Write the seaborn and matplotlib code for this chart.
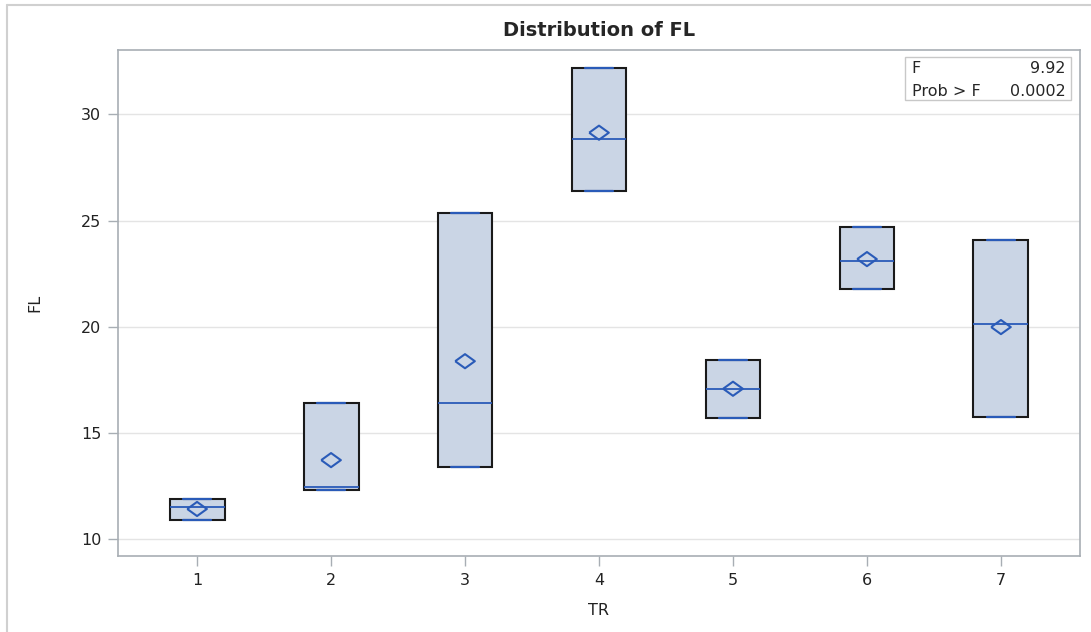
import numpy as np
import pandas as pd
import matplotlib.pyplot as plt
import seaborn as sns
from matplotlib.lines import Line2D
from matplotlib.patches import Rectangle

tr_levels = [1, 2, 3, 4, 5, 6, 7]
obs_low = [10.89, 12.30, 13.39, 26.38, 15.72, 21.78, 15.77]
obs_mid = [11.50, 12.44, 16.41, 28.83, 17.09, 23.10, 20.12]
obs_high = [11.88, 16.43, 25.34, 32.20, 18.44, 24.68, 24.07]
f_value = "9.92"
p_value = "0.0002"

df = pd.DataFrame({
    'TR': np.repeat(tr_levels, 3),
    'FL': np.column_stack([obs_low, obs_mid, obs_high]).ravel(),
})

sns.set_theme(style="white")
plt.rcParams['font.family'] = ['DejaVu Sans']

fig = plt.figure(figsize=(10.91, 6.32), dpi=100)
ax = fig.add_axes([118 / 1091, 1 - 556 / 632, 962 / 1091, 506 / 632])

# box = min..max, line = median (SAS style with 3 obs per group)
stats = []
for tr, g in df.groupby('TR'):
    v = g['FL'].to_numpy()
    lo, med, hi = v.min(), np.median(v), v.max()
    stats.append({'med': med, 'q1': lo, 'q3': hi, 'whislo': lo, 'whishi': hi,
                  'fliers': [], 'label': str(tr)})

blue = '#2A5BB8'
ax.bxp(stats, positions=tr_levels, widths=0.41, patch_artist=True, showfliers=False,
       boxprops=dict(facecolor='#CAD5E5', edgecolor='#1A1A1A', linewidth=1.5),
       medianprops=dict(color=blue, linewidth=1.3),
       whiskerprops=dict(color=blue, linewidth=1.3),
       capprops=dict(color=blue, linewidth=1.6, zorder=5))

means = df.groupby('TR', as_index=False)['FL'].mean()
diamond = [(-1, 0), (0, 0.72), (1, 0), (0, -0.72), (-1, 0)]
sns.scatterplot(data=means, x='TR', y='FL', marker=diamond, s=200,
                facecolor='none', edgecolor=blue, linewidth=1.5, zorder=6, ax=ax)

ax.set_xlim(0.41, 7.59)
ax.set_ylim(9.21, 33.03)
ax.set_yticks([10, 15, 20, 25, 30])
ax.set_xticks(tr_levels)
ax.set_xticklabels([str(t) for t in tr_levels])
ax.yaxis.grid(True, color='#E4E4E4', linewidth=1)
ax.set_axisbelow(True)
for s in ax.spines.values():
    s.set_color('#A8AEB4')
    s.set_linewidth(1.2)
ax.tick_params(axis='both', which='major', length=7, width=1, color='#A8AEB4',
               labelsize=11.5, labelcolor='#222222', pad=5, bottom=True, left=True)

ax.set_xlabel('TR', fontsize=11.5, color='#222222', labelpad=11)
ax.set_ylabel('FL', fontsize=11.5, color='#222222', labelpad=28)
ax.set_title('Distribution of FL', fontsize=14, fontweight='bold', pad=10)

# F statistic inset
ax.add_patch(Rectangle((0.818, 0.901), 0.1726, 0.085, transform=ax.transAxes,
                       facecolor='white', edgecolor='#C8C8C8', linewidth=1, zorder=7))
ax.text(0.825, 0.963, 'F', transform=ax.transAxes, fontsize=11.5, va='center', ha='left', zorder=8)
ax.text(0.985, 0.963, f_value, transform=ax.transAxes, fontsize=11.5, va='center', ha='right', zorder=8)
ax.text(0.825, 0.918, 'Prob > F', transform=ax.transAxes, fontsize=11.5, va='center', ha='left', zorder=8)
ax.text(0.985, 0.918, p_value, transform=ax.transAxes, fontsize=11.5, va='center', ha='right', zorder=8)

# outer frame of the graph area
fig.add_artist(Line2D([7 / 1091, 1.0], [1 - 5 / 632] * 2, color='#D0D0D0', linewidth=1.5))
fig.add_artist(Line2D([7 / 1091] * 2, [0.0, 1 - 5 / 632], color='#D0D0D0', linewidth=1.5))

fig.savefig('out.png', dpi=100)
